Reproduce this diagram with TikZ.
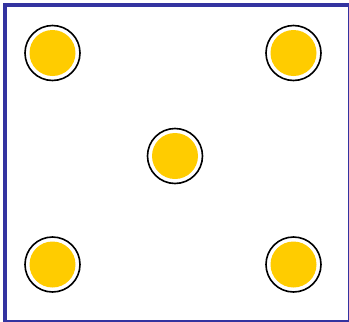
\documentclass[tikz,border=0pt]{standalone}
\usepackage{tikz}
\definecolor{frameblue}{RGB}{51,51,160}
\definecolor{gold}{RGB}{255,204,0}

\begin{document}
\begin{tikzpicture}[x=1pt, y=-1pt,
  dot/.style={circle, draw=black, line width=1.6pt, fill=white, inner sep=0pt,
    minimum size=55pt,
    path picture={\fill[gold] (path picture bounding box.center) circle (23pt);}}]
\useasboundingbox (0,0) rectangle (349,322);
\clip (0,0) rectangle (349,322);
\draw[frameblue, line width=4pt] (5,5) rectangle (350,322);
\node[dot] (c1) at (52.5,53) {};  \node[dot] (c2) at (293.5,53) {};
\node[dot] (c3) at (175,156) {};
\node[dot] (c4) at (52.5,264.5) {}; \node[dot] (c5) at (293.5,264.5) {};
\end{tikzpicture}
\end{document}
